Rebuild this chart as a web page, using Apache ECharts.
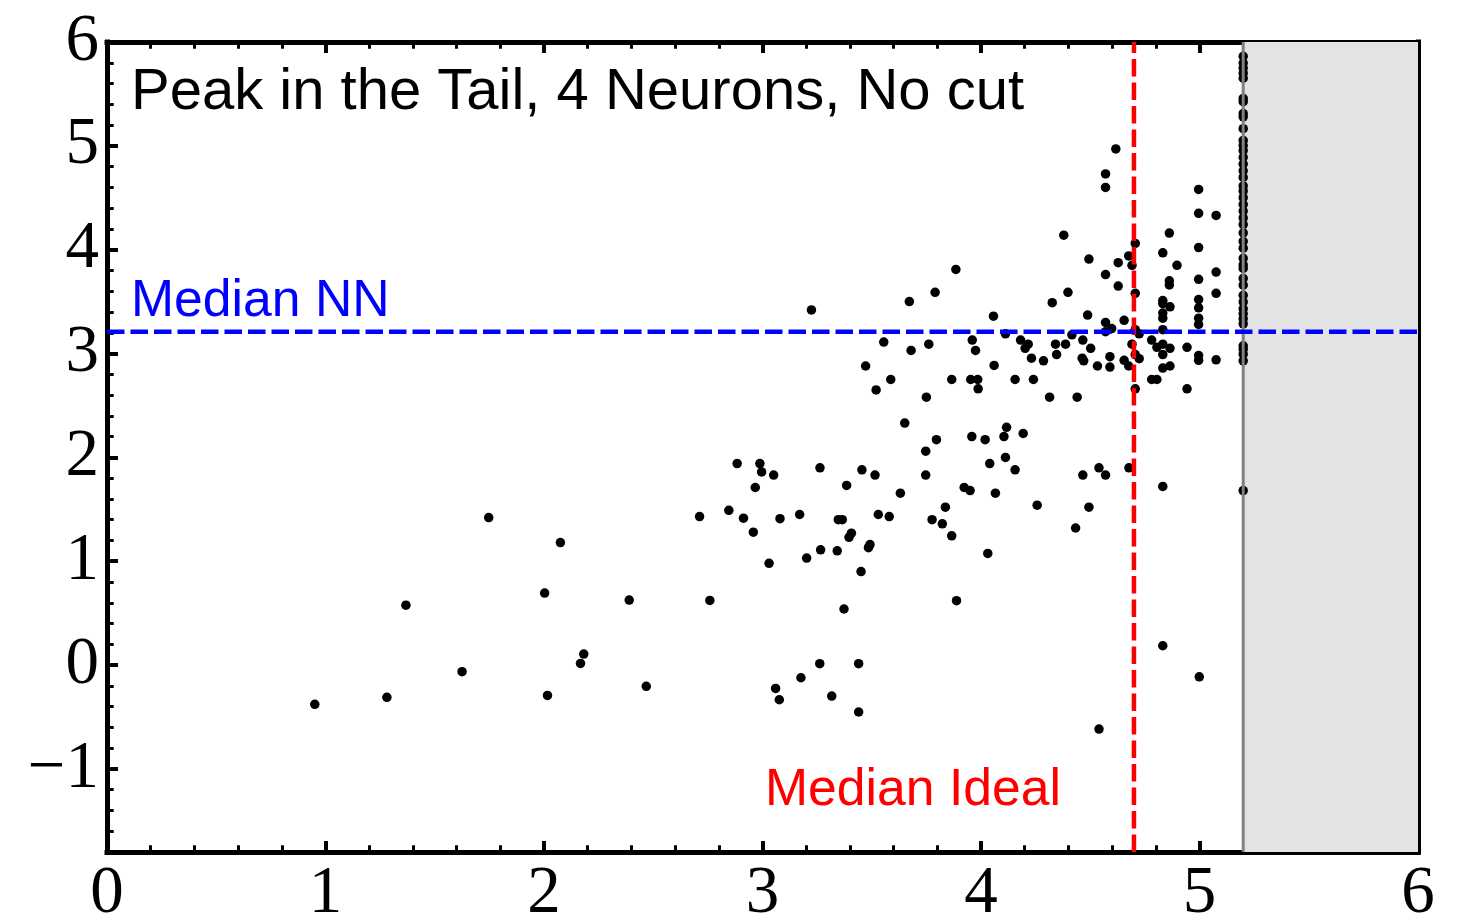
<!DOCTYPE html>
<html>
<head>
<meta charset="utf-8">
<script src="https://cdn.jsdelivr.net/npm/echarts@6/dist/echarts.min.js"></script>
<style>
  html, body { margin: 0; padding: 0; background: #ffffff; }
  #chart { width: 1466px; height: 918px; }
</style>
</head>
<body>
<div id="chart"></div>
<script>
// Axis ranges and tick values
const xMin = 0, xMax = 6;
const yMin = -1.8, yMax = 6;
const xTicks = [0, 1, 2, 3, 4, 5, 6];
const yTicks = [-1, 0, 1, 2, 3, 4, 5, 6];

// Reference lines
const medianNN = 3.21;     // horizontal, blue
const medianIdeal = 4.70;  // vertical, red
const cutEdge = 5.2;       // start of the excluded (shaded) band

// Events: ideal value (x) vs. network value (y)
const eventX = [
  0.951, 1.281, 1.368, 1.625, 1.747, 2.003, 2.016, 2.075, 2.167, 2.182, 2.39, 2.468, 2.712, 2.759,
  3.224, 3.672, 3.79, 3.555, 3.68, 3.761, 3.472, 3.587, 3.52, 3.866, 3.75, 3.651, 3.796, 3.747, 3.747,
  2.884, 2.988, 2.996, 3.051, 2.967, 3.263, 3.455, 3.515, 3.385, 3.631, 2.846, 2.913, 3.08, 3.17, 2.958,
  3.347, 3.365, 3.53, 3.58, 3.837, 3.776, 3.823, 3.866, 3.396, 3.407, 3.485, 3.492, 3.266, 3.342, 3.202,
  3.03, 3.451, 3.373, 3.262, 3.44, 3.176, 3.06, 3.077, 3.317, 3.44,
  4.379, 4.494, 3.885, 4.398, 4.326, 4.057, 4.488, 4.112, 3.96, 3.975, 4.181, 4.216, 4.202, 4.231, 4.286, 4.341, 4.387,
  4.346, 4.416, 4.466, 4.502, 4.463, 4.47, 4.533, 4.06, 3.953, 3.985, 3.987, 4.156, 4.24, 4.314, 4.44,
  4.617, 4.57, 4.57, 4.996, 4.996, 5.076, 4.862, 4.706, 4.628, 4.676, 4.691, 4.832, 4.897, 4.996, 4.57, 4.628,
  4.862, 4.862, 4.706, 4.996, 5.076, 5.076, 4.832, 4.832, 4.865, 4.832, 4.832, 4.996, 4.996, 4.996, 4.996,
  4.832, 4.655, 4.57, 4.57, 4.598, 4.706, 4.724, 4.781, 4.691, 4.805, 4.832, 4.865, 4.832, 4.943, 4.996, 4.996,
  5.076, 4.59, 4.706, 4.724, 4.655, 4.676, 4.59, 4.832, 4.865, 4.781, 4.805, 4.706, 4.943,
  4.117, 3.958, 4.019, 4.105, 4.193, 4.04, 4.112, 4.156, 3.923, 3.95, 4.066, 4.031, 3.888, 4.257, 4.466, 4.54, 4.57, 4.677, 4.494, 4.433, 4.832, 4.832, 4.999, 4.54
];
const eventY = [
  -0.378, -0.311, 0.577, -0.064, 1.42, 0.693, -0.292, 1.18, 0.016, 0.106, 0.626, -0.205, 1.43, 0.623,
  3.42, 3.50, 3.59, 3.11, 3.03, 3.09, 2.88, 2.75, 2.65, 2.75, 2.58, 2.33, 2.17, 2.06, 1.83,
  1.94, 1.94, 1.86, 1.83, 1.71, 1.90, 1.88, 1.83, 1.73, 1.655, 1.49, 1.415, 1.41, 1.45, 1.28,
  1.40, 1.40, 1.45, 1.43, 1.52, 1.40, 1.36, 1.245, 1.23, 1.27, 1.13, 1.16, 1.11, 1.10, 1.03,
  0.98, 0.90, 0.54, 0.013, 0.013, -0.122, -0.225, -0.334, -0.298, -0.452,
  4.14, 3.91, 3.81, 3.59, 3.49, 3.36, 3.37, 3.19, 3.13, 3.03, 3.13, 3.09, 3.05, 2.955, 2.93, 3.09, 3.09,
  2.99, 3.18, 3.13, 3.05, 2.955, 2.93, 2.88, 2.885, 2.75, 2.75, 2.66, 2.75, 2.75, 2.58, 2.58,
  4.97, 4.73, 4.60, 4.58, 4.35, 4.33, 4.16, 4.06, 3.875, 3.94, 3.85, 3.97, 3.85, 4.02, 3.76, 3.65,
  3.70, 3.66, 3.58, 3.715, 3.785, 3.58, 3.51, 3.48, 3.45, 3.39, 3.34, 3.52, 3.44, 3.34, 3.28,
  3.23, 3.32, 3.30, 3.21, 3.24, 3.23, 3.19, 3.13, 3.09, 3.06, 3.09, 3.05, 2.99, 3.06, 2.98, 2.935,
  2.94, 2.97, 2.99, 2.95, 2.935, 2.88, 2.87, 2.86, 2.88, 2.75, 2.75, 2.66, 2.66,
  2.29, 2.20, 2.17, 2.20, 2.23, 1.94, 2.00, 1.88, 1.71, 1.68, 1.655, 1.075, 0.62, 1.54, 1.83, 1.90, 1.83, 1.90, 1.52, 1.32, 1.72, 0.186, -0.113, -0.616
];

// Events whose ideal value lies beyond the cut, pinned at the band edge
const edgeY = [
  5.862, 5.797, 5.749, 5.700, 5.652, 5.457, 5.425, 5.311, 5.279, 5.165, 5.052, 5.003, 4.955,
  4.890, 4.825, 4.760, 4.696, 4.614, 4.566, 4.501, 4.436, 4.372, 4.306, 4.242, 4.161, 4.080,
  4.015, 3.917, 3.853, 3.820, 3.723, 3.658, 3.561, 3.497, 3.431, 3.383, 3.334, 3.286, 3.075,
  3.042, 2.994, 2.930, 1.68
];

// Minor tick positions on the vertical axes (every 0.2, skipping integers)
const yMinorTicks = [];
for (let k = -8; k < 30; k++) {
  if (k % 5 !== 0) yMinorTicks.push(+(k * 0.2).toFixed(1));
}

const BLACK = '#000000';
const points = eventX.map((x, i) => [x, eventY[i]]);
const edgePoints = edgeY.map(y => [cutEdge, y]);

const frameLine = { show: true, onZero: false, lineStyle: { color: BLACK, width: 5, cap: 'square' } };
const majorTick = { show: true, inside: true, length: 11, lineStyle: { color: BLACK, width: 4 } };
const minorTick = { show: true, splitNumber: 5, length: 6.7, lineStyle: { color: BLACK, width: 3 } };
const tickFont = { fontFamily: '"Liberation Serif", "Times New Roman", serif', fontSize: 67, color: BLACK };
const fmt = v => (v < 0 ? '\u2212' + Math.abs(v) : String(v));

// Two identical grids: the second one only carries the minor ticks of the vertical frame
const gridRect = { left: 107, right: 48, top: 42, bottom: 66, containLabel: false, outerBoundsMode: 'none' };

function xAxisAt(position, withLabels) {
  return {
    type: 'value', gridIndex: 0, position, min: xMin, max: xMax, interval: 1,
    axisLine: frameLine,
    axisTick: Object.assign({}, majorTick, { customValues: xTicks }),
    minorTick,
    splitLine: { show: false }, minorSplitLine: { show: false },
    axisLabel: withLabels
      ? Object.assign({ show: true, margin: 9, customValues: xTicks, formatter: fmt, hideOverlap: false }, tickFont)
      : { show: false }
  };
}
function yAxisMajor(position, withLabels) {
  return {
    type: 'value', gridIndex: 0, position, min: yMin, max: yMax,
    axisLine: frameLine,
    axisTick: Object.assign({}, majorTick, { customValues: yTicks }),
    splitLine: { show: false },
    axisLabel: withLabels
      ? Object.assign({ show: true, margin: 8, customValues: yTicks, formatter: fmt, hideOverlap: false }, tickFont)
      : { show: false }
  };
}
function yAxisMinor(position) {
  return {
    type: 'value', gridIndex: 1, position, min: yMin, max: yMax,
    axisLine: { show: false },
    axisTick: { show: true, inside: true, length: 6.7, customValues: yMinorTicks, lineStyle: { color: BLACK, width: 3 } },
    splitLine: { show: false },
    axisLabel: { show: false }
  };
}

const option = {
  animation: false,
  backgroundColor: '#ffffff',
  grid: [Object.assign({}, gridRect), Object.assign({}, gridRect)],
  xAxis: [
    xAxisAt('bottom', true),
    xAxisAt('top', false),
    { type: 'value', gridIndex: 1, min: xMin, max: xMax, show: false }
  ],
  yAxis: [yAxisMajor('left', true), yAxisMajor('right', false), yAxisMinor('left'), yAxisMinor('right')],
  series: [
    {
      // shaded band beyond the cut
      type: 'line', name: 'band', z: 1, silent: true,
      xAxisIndex: 0, yAxisIndex: 0,
      data: [[cutEdge, yMax], [xMax, yMax]],
      symbol: 'none',
      lineStyle: { width: 0, opacity: 0 },
      areaStyle: { color: '#e3e3e3', opacity: 1, origin: 'start' }
    },
    {
      type: 'scatter', name: 'events', z: 3, silent: true,
      xAxisIndex: 0, yAxisIndex: 0,
      data: points, symbol: 'circle', symbolSize: 9.5,
      itemStyle: { color: BLACK, opacity: 1 }
    },
    {
      type: 'scatter', name: 'beyond cut', z: 3, silent: true,
      xAxisIndex: 0, yAxisIndex: 0,
      data: edgePoints, symbol: 'circle', symbolSize: 9.5,
      itemStyle: { color: BLACK, opacity: 1 }
    },
    {
      type: 'line', name: 'cut edge', z: 4, silent: true,
      xAxisIndex: 0, yAxisIndex: 0,
      data: [[cutEdge, yMin], [cutEdge, yMax]], symbol: 'none',
      lineStyle: { color: '#808080', width: 3 }
    },
    {
      type: 'line', name: 'Median Ideal', z: 5, silent: true,
      xAxisIndex: 0, yAxisIndex: 0,
      data: [[medianIdeal, yMin], [medianIdeal, yMax]], symbol: 'none',
      lineStyle: { color: '#ff0000', width: 4.5, type: [17.5, 6] }
    },
    {
      type: 'line', name: 'Median NN', z: 5, silent: true,
      xAxisIndex: 0, yAxisIndex: 0,
      data: [[xMin, medianNN], [xMax, medianNN]], symbol: 'none',
      lineStyle: { color: '#0000ff', width: 4.5, type: [17.5, 6] }
    }
  ],
  graphic: [
    {
      type: 'text', x: 131, y: 92.5, z: 10,
      style: { text: 'Peak in the Tail, 4 Neurons, No cut', font: '58px "Liberation Sans", Arial, sans-serif', fill: BLACK, verticalAlign: 'middle' }
    },
    {
      type: 'text', x: 131, y: 302, z: 10,
      style: { text: 'Median NN', font: '51.7px "Liberation Sans", Arial, sans-serif', fill: '#0000ff', verticalAlign: 'middle' }
    },
    {
      type: 'text', x: 765, y: 790.5, z: 10,
      style: { text: 'Median Ideal', font: '51.7px "Liberation Sans", Arial, sans-serif', fill: '#ff0000', verticalAlign: 'middle' }
    }
  ]
};

const chart = echarts.init(document.getElementById('chart'), null, { renderer: 'canvas' });
chart.setOption(option);
</script>
</body>
</html>
